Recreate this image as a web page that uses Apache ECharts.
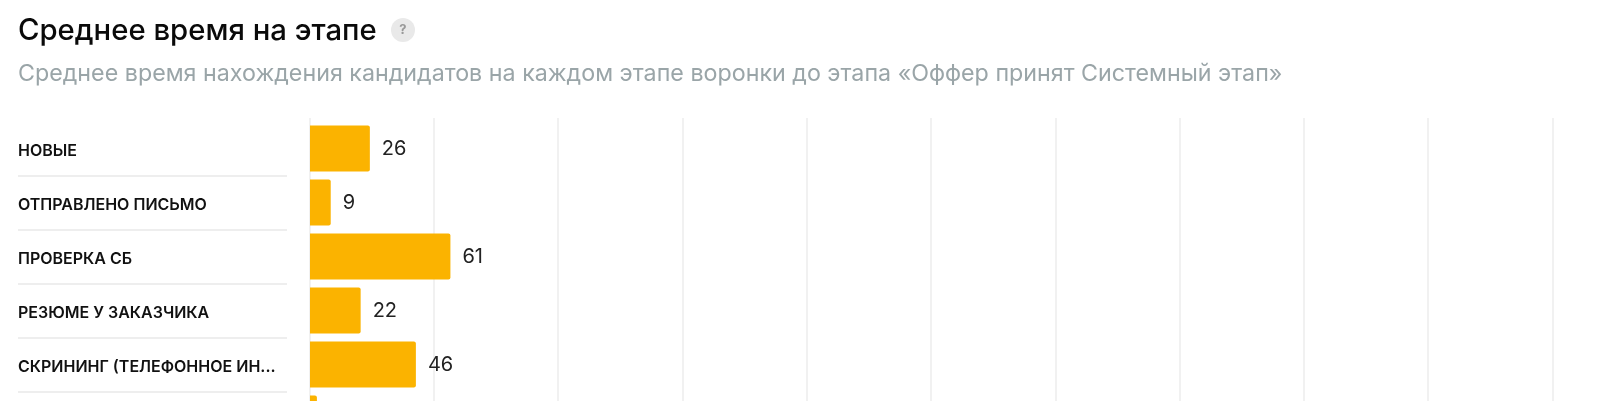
<!DOCTYPE html>
<html><head><meta charset="utf-8">
<style>html,body{margin:0;padding:0;background:#fff;overflow:hidden}#c{width:1600px;height:401px}</style>
<script src="https://cdn.jsdelivr.net/npm/echarts@6/dist/echarts.min.js"></script>
</head><body><div id="c"></div>
<script>
const categories = ['НОВЫЕ','ОТПРАВЛЕНО ПИСЬМО','ПРОВЕРКА СБ','РЕЗЮМЕ У ЗАКАЗЧИКА','СКРИНИНГ (ТЕЛЕФОННОЕ ИН...',''];
const values = [26,9,61,22,46,3];
const titleText = 'Среднее время на этапе';
const subtitleText = 'Среднее время нахождения кандидатов на каждом этапе воронки до этапа «Оффер принят Системный этап»';
const axisMax = 540, axisStep = 54;
const font = 'Inter, "Noto Sans", sans-serif';
const hiddenValueAxis = (gridIndex, extra) => Object.assign({type:'value',gridIndex,min:0,max:axisMax,interval:axisStep,position:'top',
  axisLabel:{show:false},axisLine:{show:false},axisTick:{show:false},splitLine:{show:false}}, extra||{});
const chart = echarts.init(document.getElementById('c'), null, {renderer:'canvas'});
chart.setOption({
  animation:false,
  backgroundColor:'#fff',
  title:[
    {text:titleText,left:18,top:17,padding:0,textStyle:{fontFamily:font,fontSize:29.3,fontWeight:500,color:'#0a0a0a'}},
    {text:subtitleText,left:18,top:63,padding:0,textStyle:{fontFamily:font,fontSize:23.25,fontWeight:400,color:'#9aa5a8'}}
  ],
  graphic:[
    {type:'circle',shape:{cx:403,cy:30,r:12},style:{fill:'#e9e9e9'}},
    {type:'text',style:{x:403,y:30,text:'?',fill:'#999999',font:'700 13px '+font,textAlign:'center',textVerticalAlign:'middle'}}
  ],
  grid:[
    {left:310,top:121.5,width:1243,height:324,outerBoundsMode:'none',containLabel:false},
    {left:309.5,top:118,width:1243,height:327,outerBoundsMode:'none',containLabel:false},
    {left:18,top:121.5,width:269,height:324,outerBoundsMode:'none',containLabel:false}
  ],
  xAxis:[
    hiddenValueAxis(0),
    hiddenValueAxis(1,{splitLine:{show:true,lineStyle:{color:'#ececec',width:1.5}}}),
    hiddenValueAxis(2)
  ],
  yAxis:[
    {type:'category',gridIndex:0,inverse:true,data:categories,
      axisLine:{show:false},axisTick:{show:false},
      axisLabel:{margin:292,align:'left',verticalAlign:'top',lineHeight:6,
        fontFamily:font,fontSize:16,fontWeight:600,color:'#111'},
      splitLine:{show:false}},
    {type:'category',gridIndex:1,data:[''],show:false},
    {type:'category',gridIndex:2,inverse:true,data:categories,
      axisLine:{show:false},axisTick:{show:false},axisLabel:{show:false},
      splitLine:{show:true,showMinLine:false,interval:0,lineStyle:{color:'#e9e9e9',width:1.5}}}
  ],
  series:[{type:'bar',xAxisIndex:0,yAxisIndex:0,data:values,barWidth:46,
    itemStyle:{color:'#fbb300',borderRadius:[0,2,2,0]},
    label:{show:true,position:'right',distance:12,fontFamily:font,fontSize:20,color:'#222',offset:[0,0.5]}}]
});
</script></body></html>
